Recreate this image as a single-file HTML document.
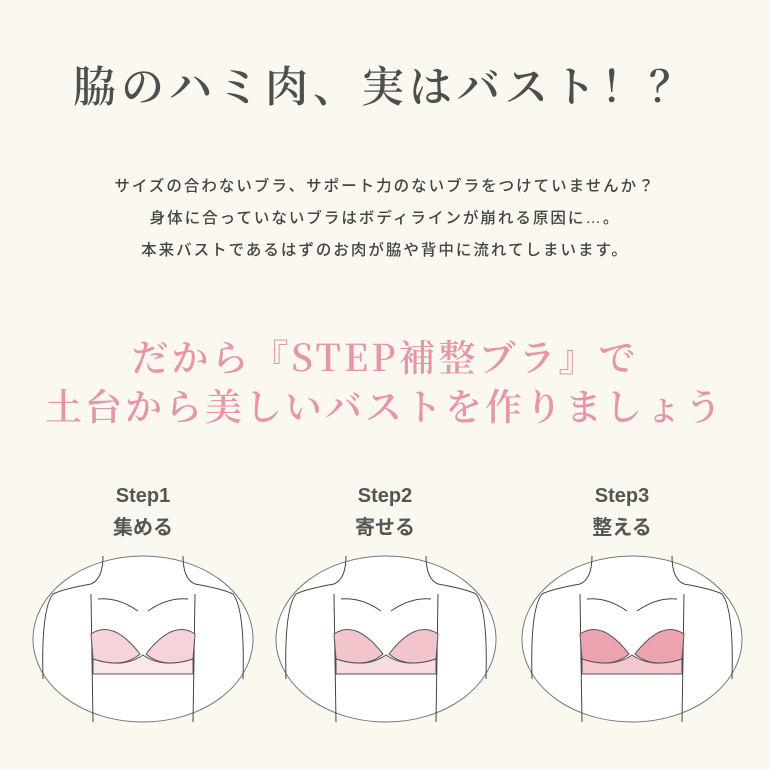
<!DOCTYPE html>
<html><head><meta charset="utf-8"><style>
html,body{margin:0;padding:0;background:#fbf8ef;}
body{width:770px;height:770px;position:relative;overflow:hidden;}
.t{position:absolute;left:0;width:770px;text-align:center;white-space:nowrap;}
.title{top:54px;font-family:"Noto Serif CJK SC",serif;font-size:43px;font-weight:600;color:#4e4e4e;letter-spacing:5px;}
.body{font-family:"Liberation Sans","Noto Sans CJK JP",sans-serif;font-size:15.5px;color:#444;letter-spacing:2px;font-weight:500;}
.pink{font-family:"Noto Serif CJK SC",serif;font-size:37px;font-weight:600;color:#e597a6;letter-spacing:3px;}
.step{position:absolute;width:160px;text-align:center;font-family:"Liberation Sans","Noto Sans CJK JP",sans-serif;font-size:20px;color:#555;font-weight:bold;line-height:32px;}
</style></head><body>
<div class="t title">脇のハミ肉、実はバスト！？</div>
<div class="t body" style="top:174px">サイズの合わないブラ、サポート力のないブラをつけていませんか？</div>
<div class="t body" style="top:206px">身体に合っていないブラはボディラインが崩れる原因に…。</div>
<div class="t body" style="top:238px">本来バストであるはずのお肉が脇や背中に流れてしまいます。</div>
<div class="t pink" style="top:328px">だから『STEP補整ブラ』で</div>
<div class="t pink" style="top:377px">土台から美しいバストを作りましょう</div>
<div class="step" style="left:63px;top:480px">Step1<br>集める</div>
<div class="step" style="left:305px;top:480px">Step2<br>寄せる</div>
<div class="step" style="left:542px;top:480px">Step3<br>整える</div>
<svg width="770" height="770" style="position:absolute;left:0;top:0">
<defs>
<g id="fig">
<ellipse cx="0" cy="0" rx="110" ry="83" fill="#fff" stroke="#777" stroke-width="1"/>
<path d="M-40,-83 Q-40,-60 -52,-55 Q-80,-50 -90,-45 Q-102,-30 -100,40" fill="none" stroke="#444" stroke-width="1"/>
<path d="M40,-83 Q40,-60 52,-55 Q80,-50 90,-45 Q102,-30 100,40" fill="none" stroke="#444" stroke-width="1"/>
<path d="M-45,-40 Q-25,-42 -5,-28 M45,-40 Q25,-42 5,-28" fill="none" stroke="#444" stroke-width="1"/>
<line x1="-52" y1="-45" x2="-50" y2="83" stroke="#444"/>
<line x1="52" y1="-45" x2="50" y2="83" stroke="#444"/>
</g>
</defs>
<g transform="translate(143,639)"><use href="#fig"/>
<path d="M-52,-5 Q-30,-20 -3,15 Q-20,30 -50,20 Z M52,-5 Q30,-20 3,15 Q20,30 50,20 Z" fill="#f5d3d8" stroke="#555"/>
<path d="M-50,20 L-50,35 L50,35 L50,20 Q20,30 0,16 Q-20,30 -50,20Z" fill="#fbe6e8" stroke="#555"/></g>
<g transform="translate(386,639)"><use href="#fig"/>
<path d="M-52,-5 Q-30,-20 -3,15 Q-20,30 -50,20 Z M52,-5 Q30,-20 3,15 Q20,30 50,20 Z" fill="#f2c4cb" stroke="#555"/>
<path d="M-50,20 L-50,35 L50,35 L50,20 Q20,30 0,16 Q-20,30 -50,20Z" fill="#f8dde0" stroke="#555"/></g>
<g transform="translate(632,639)"><use href="#fig"/>
<path d="M-52,-5 Q-30,-20 -3,15 Q-20,30 -50,20 Z M52,-5 Q30,-20 3,15 Q20,30 50,20 Z" fill="#eda2b0" stroke="#555"/>
<path d="M-50,20 L-50,35 L50,35 L50,20 Q20,30 0,16 Q-20,30 -50,20Z" fill="#f4c6cd" stroke="#555"/></g>
</svg>
</body></html>
